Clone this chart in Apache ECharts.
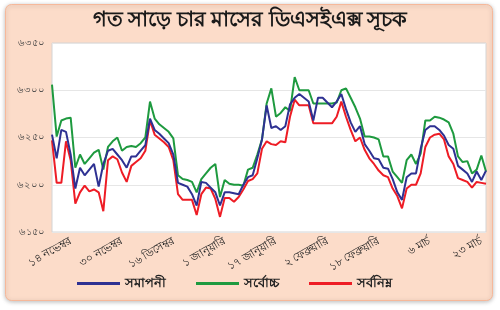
<!DOCTYPE html>
<html><head><meta charset="utf-8">
<script src="https://cdn.jsdelivr.net/npm/echarts@6/dist/echarts.min.js"></script>
<style>html,body{margin:0;padding:0;background:#fff}#c{width:500px;height:310px}</style>
</head><body><div id="c"></div>
<script>
const title = 'গত সাড়ে চার মাসের ডিএসইএক্স সূচক';
const tickLabels = ['১৪ নভেম্বর','৩০ নভেম্বর','১৬ ডিসেম্বর','১ জানুয়ারি','১৭ জানুয়ারি','২ ফেব্রুয়ারি','১৮ ফেব্রুয়ারি','৬ মার্চ','২৩ মার্চ'];
const tickIndex = [4,15,26,37,48,59,70,81,92];
const yTicks = {6150:'৬১৫০',6200:'৬২০০',6250:'৬২৫০',6300:'৬৩০০',6350:'৬৩৫০'};
const seriesNames = ['সমাপনী','সর্বোচ্চ','সর্বনিম্ন'];
const closeVals = [6253,6228,6258,6256,6232,6196,6218,6210,6216,6222,6198,6222,6236,6238,6232,6226,6218,6230,6230,6236,
6242,6270,6258,6254,6249,6244,6232,6202,6200,6198,6190,6178,6203,6202,6197,6192,6178,6192,6192,6191,
6190,6200,6208,6210,6228,6248,6284,6260,6262,6258,6262,6285,6292,6296,6292,6288,6268,6292,6292,6287,
6282,6288,6296,6280,6266,6256,6262,6243,6236,6228,6227,6218,6217,6206,6192,6184,6208,6212,6212,6238,
6258,6262,6262,6258,6252,6242,6238,6220,6216,6212,6203,6214,6205,6215];
const highVals = [6306,6251,6268,6270,6271,6218,6232,6222,6228,6234,6237,6216,6240,6246,6250,6236,6240,6241,6240,6244,
6250,6288,6270,6264,6260,6256,6249,6210,6206,6205,6203,6192,6206,6212,6218,6222,6187,6205,6201,6200,
6200,6199,6216,6218,6232,6248,6286,6302,6272,6276,6282,6278,6314,6300,6300,6300,6286,6286,6286,6286,
6286,6287,6300,6302,6292,6282,6270,6251,6251,6250,6248,6230,6230,6214,6208,6202,6226,6232,6222,6233,
6268,6268,6272,6271,6269,6266,6254,6230,6224,6225,6212,6216,6231,6214];
const lowVals = [6247,6202,6202,6246,6226,6180,6192,6199,6193,6195,6192,6172,6226,6230,6227,6213,6203,6220,6224,6228,
6236,6268,6253,6249,6245,6240,6226,6190,6184,6184,6184,6168,6190,6197,6196,6185,6166,6186,6186,6182,
6187,6195,6204,6206,6212,6238,6246,6243,6242,6246,6245,6272,6290,6284,6284,6284,6265,6265,6265,6265,
6265,6272,6288,6272,6258,6246,6250,6237,6228,6222,6215,6210,6208,6196,6188,6175,6196,6200,6200,6212,
6240,6250,6253,6254,6248,6230,6222,6207,6205,6203,6197,6203,6202,6201];
const colors = ['#2e3192','#1e9a3f','#ee1c25'];

const categories = closeVals.map((_, i) => {
  const k = tickIndex.indexOf(i);
  return k >= 0 ? tickLabels[k] : '';
});
const FONT = '"Noto Sans", sans-serif';
const chart = echarts.init(document.getElementById('c'), null, {renderer:'canvas'});
chart.setOption({
  animation: false,
  backgroundColor: '#fff',
  graphic: [{
    type:'rect', left:5, top:4, shape:{width:487, height:296, r:6},
    style:{fill:'#fcdcc9', stroke:'#f6b89a', lineWidth:1, shadowBlur:4, shadowColor:'rgba(0,0,0,0.25)', shadowOffsetY:1},
    z:-10
  }],
  title: {text:title, left:'center', top:5,
    textStyle:{fontSize:21, fontWeight:'bold', color:'#1a1a1a', fontFamily:FONT}},
  grid: {left:52, top:43, width:434, height:189, show:true, backgroundColor:'#fff', borderColor:'#d4d4d4', borderWidth:1},
  legend: {bottom:15, left:72, itemWidth:43, itemHeight:3, itemGap:30, icon:'rect',
    textStyle:{fontSize:13, fontWeight:'bold', color:'#222', fontFamily:FONT},
    data: seriesNames},
  xAxis: {type:'category', data:categories, boundaryGap:false,
    axisLine:{show:false}, axisTick:{show:false},
    axisLabel:{interval:0, rotate:30, fontSize:11, color:'#222', margin:8, fontFamily:FONT}},
  yAxis: {type:'value', min:6150, max:6350, interval:50,
    axisLine:{show:false}, axisTick:{show:false},
    splitLine:{lineStyle:{color:'#e6e6e6', type:'solid'}},
    axisLabel:{fontSize:10, color:'#444', margin:7, fontFamily:FONT, formatter:v => yTicks[v] || ''}},
  series: [
    {name:seriesNames[1], type:'line', data:highVals, symbol:'none', lineStyle:{width:2, color:colors[1]}, itemStyle:{color:colors[1]}, z:2},
    {name:seriesNames[2], type:'line', data:lowVals, symbol:'none', lineStyle:{width:2, color:colors[2]}, itemStyle:{color:colors[2]}, z:3},
    {name:seriesNames[0], type:'line', data:closeVals, symbol:'none', lineStyle:{width:2, color:colors[0]}, itemStyle:{color:colors[0]}, z:4}
  ]
});
</script></body></html>
